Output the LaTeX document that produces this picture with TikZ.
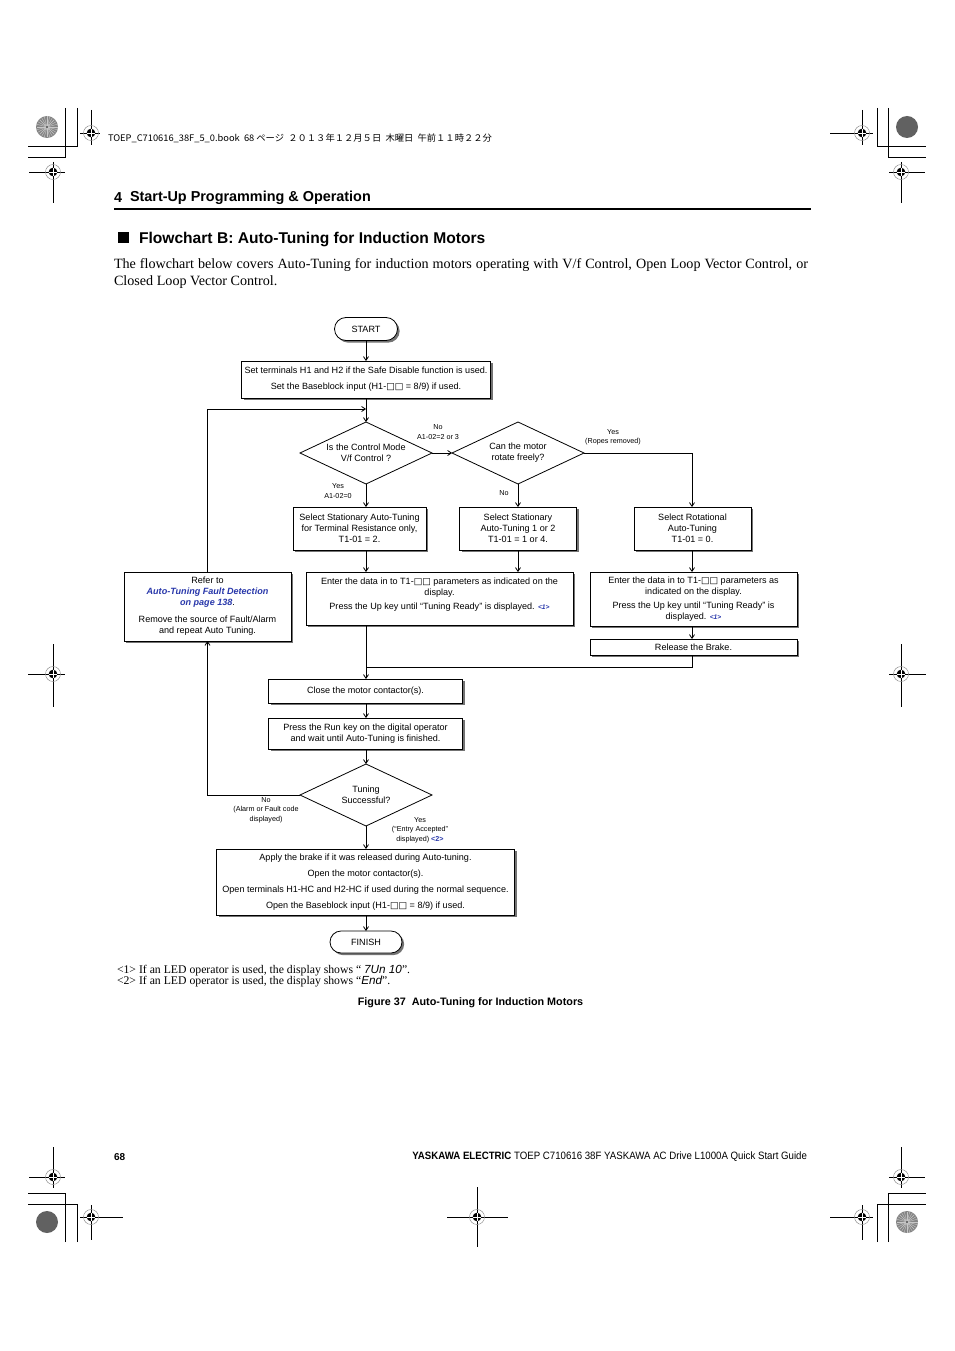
\documentclass[tikz,border=0pt]{standalone}
\usepackage{fontspec}
\usepackage{graphicx}
\setmainfont{Liberation Serif}
\setsansfont{Liberation Sans}
\newfontfamily\cjk{Noto Sans CJK JP}
\newfontfamily\dejavu{DejaVu Sans}
\usetikzlibrary{shapes.geometric,shapes.misc,arrows.meta,shadows}
\definecolor{lnk}{RGB}{40,55,170}
\newcommand{\sqbox}{{\dejavu\char"25A1}}
\newcommand{\fnref}[1]{\textcolor{lnk}{\fontsize{5}{6}\selectfont\bfseries\itshape #1}}
\begin{document}
\begin{tikzpicture}[x=0.75pt,y=-0.75pt,
 every node/.style={inner sep=0pt, outer sep=0pt},
 fc/.style={font=\sffamily\fontsize{6.8}{8.25}\selectfont, align=center},
 lbl/.style={font=\sffamily\fontsize{5.4}{7}\selectfont, align=center},
 wh/.style 2 args={minimum width=#1*0.75pt, minimum height=#2*0.75pt},
 shad/.style={drop shadow={shadow xshift=1.6pt, shadow yshift=-1.6pt, fill=black!55, opacity=1}},
 procbox/.style={fc, draw, fill=white, line width=0.6pt, shad},
 termbox/.style={fc, rounded rectangle, draw, fill=white, line width=0.6pt, shad},
 decbox/.style={fc, diamond, aspect=2.13, draw, fill=white, line width=0.6pt},
 conn/.style={line width=0.6pt, -{Straight Barb[length=2.8pt,width=3.8pt]}},
 wire/.style={line width=0.6pt},
 regl/.style={line width=0.6pt},
 regtarget/.pic={
   \draw[black!45, line width=0.35pt] (0,0) circle (7.5);
   \fill (0,0) circle (4.3);
   \draw[white, line width=0.5pt] (-4.3,0) -- (4.3,0) (0,-4.3) -- (0,4.3);
 },
 darkdisk/.pic={\fill[black!62] (0,0) circle (11);},
 lightdisk/.pic={
   \fill[black!48] (0,0) circle (11);
   \foreach \a in {0,15,...,165} \draw[black!22, line width=0.3pt] (\a:10.5) -- (\a+180:10.5);
   \fill[black!70] (0,0) circle (1.2);
 },
]
\useasboundingbox (0,0) rectangle (954,1351);
\fill[white] (0,0) rectangle (954,1351);

% ---------- crop marks ----------
\draw[regl] (77,108) -- (77,146) -- (28,146);
\draw[regl] (65,108) -- (65,157) -- (28,157);
\draw[regl] (877,108) -- (877,146) -- (926,146);
\draw[regl] (888,108) -- (888,157) -- (926,157);
\draw[regl] (77,1242) -- (77,1204) -- (28,1204);
\draw[regl] (65,1242) -- (65,1193) -- (28,1193);
\draw[regl] (877,1242) -- (877,1204) -- (926,1204);
\draw[regl] (888,1242) -- (888,1193) -- (926,1193);

% ---------- registration targets ----------
\draw[regl] (80,133) -- (100,133) (91,110) -- (91,145);
\pic at (91,133) {regtarget};
\draw[regl] (830,133) -- (873,133) (862,110) -- (862,145);
\pic at (862,133) {regtarget};
\draw[regl] (29,172) -- (65,172) (53,162) -- (53,203);
\pic at (53,172) {regtarget};
\draw[regl] (889,172) -- (925,172) (901,162) -- (901,203);
\pic at (901,172) {regtarget};
\draw[regl] (28,674) -- (65,674) (53,644) -- (53,707);
\pic at (53,674) {regtarget};
\draw[regl] (889,674) -- (926,674) (901,644) -- (901,707);
\pic at (901,674) {regtarget};
\draw[regl] (29,1177) -- (65,1177) (53,1147) -- (53,1188);
\pic at (53,1177) {regtarget};
\draw[regl] (889,1177) -- (925,1177) (901,1147) -- (901,1188);
\pic at (901,1177) {regtarget};
\draw[regl] (80,1217) -- (123,1217) (91,1205) -- (91,1240);
\pic at (91,1217) {regtarget};
\draw[regl] (830,1217) -- (873,1217) (862,1205) -- (862,1240);
\pic at (862,1217) {regtarget};
\draw[regl] (447,1217) -- (508,1217) (477,1187) -- (477,1247);
\pic at (477,1217) {regtarget};

\pic at (47,127) {lightdisk};
\pic at (907,127) {darkdisk};
\pic at (47,1222) {darkdisk};
\pic at (907,1222) {lightdisk};

% ---------- page header ----------
\node[anchor=west, font=\cjk\fontsize{6.8}{8}\selectfont] (jobline) at (108,138)
  {\resizebox{288pt}{\height}{TOEP\_C710616\_38F\_5\_0.book\ \ 68 ページ\ \ ２０１３年１２月５日\ \ 木曜日\ \ 午前１１時２２分}};
\node[anchor=west, font=\sffamily\bfseries\fontsize{10.8}{13}\selectfont] (secnum) at (114,198) {4};
\node[anchor=west, font=\sffamily\bfseries\fontsize{10.8}{13}\selectfont] (sectitle) at (130,198) {Start-Up Programming \& Operation};
\draw[line width=1.5pt] (114,209) -- (811,209);

\fill (118,232) rectangle (129,243);
\node[anchor=west, font=\sffamily\bfseries\fontsize{11.7}{14}\selectfont] (fctitle) at (139,240) {Flowchart B: Auto-Tuning for Induction Motors};

\node[anchor=north west, text width=520.5pt, align=justify, font=\fontsize{10.6}{12.75}\selectfont] (intro) at (114,259)
  {The flowchart below covers Auto-Tuning for induction motors operating with V/f Control, Open Loop Vector Control, or\linebreak Closed Loop Vector Control.};

% ---------- junction points ----------
\coordinate (j1) at (366,409);
\coordinate (j2) at (366,667);
\coordinate (c4) at (692,0);

% ---------- flowchart nodes ----------
\node[termbox, wh={63}{23}] (start) at (366,329) {START};
\node[procbox, wh={249}{37}] (b1) at (366,379.5)
  {Set terminals H1 and H2 if the Safe Disable function is used.\\[3.75pt]
   Set the Baseblock input (H1-\sqbox\sqbox\ = 8/9) if used.};
\node[decbox, wh={132}{62}] (d1) at (366,453) {Is the Control Mode\\V/f Control ?};
\node[decbox, wh={132}{62}] (d2) at (518,453) {Can the motor\\rotate freely?};
\node[procbox, wh={133}{43}] (b2) at (359.5,528.5)
  {Select Stationary Auto-Tuning\\for Terminal Resistance only,\\T1-01 = 2.};
\node[procbox, wh={117}{43}] (b3) at (518,528.5)
  {Select Stationary\\Auto-Tuning 1 or 2\\T1-01 = 1 or 4.};
\node[procbox, wh={117}{43}] (b4) at (692.5,528.5)
  {Select Rotational\\Auto-Tuning\\T1-01 = 0.};
\node[procbox, wh={167}{69}] (refer) at (207.5,606.5)
  {Refer to\\
   \textcolor{lnk}{\bfseries\itshape Auto-Tuning Fault Detection}\\
   \textcolor{lnk}{\bfseries\itshape on page 138}.\\[4.5pt]
   Remove the source of Fault/Alarm\\and repeat Auto Tuning.};
\node[procbox, wh={267}{53}, text depth=7.5pt] (b5) at (439.5,598.5)
  {Enter the data in to T1-\sqbox\sqbox\ parameters as indicated on the\\display.\\[2.25pt]
   Press the Up key until “Tuning Ready” is displayed. \fnref{<1>}};
\node[procbox, wh={207}{54}] (b6) at (693.5,599)
  {Enter the data in to T1-\sqbox\sqbox\ parameters as\\indicated on the display.\\[2.25pt]
   Press the Up key until “Tuning Ready” is\\displayed. \fnref{<1>}};
\node[procbox, wh={207}{16}] (b7) at (693.5,647) {Release the Brake.};
\node[procbox, wh={194}{24}] (b8) at (365.5,691) {Close the motor contactor(s).};
\node[procbox, wh={194}{31}] (b9) at (365.5,733.5)
  {Press the Run key on the digital operator\\and wait until Auto-Tuning is finished.};
\node[decbox, wh={132}{62}] (d3) at (366,795) {Tuning\\Successful?};
\node[procbox, wh={298}{66}] (b10) at (365.5,882)
  {Apply the brake if it was released during Auto-tuning.\\[3.75pt]
   Open the motor contactor(s).\\[3.75pt]
   Open terminals H1-HC and H2-HC if used during the normal sequence.\\[3.75pt]
   Open the Baseblock input (H1-\sqbox\sqbox\ = 8/9) if used.};
\node[termbox, wh={72}{22}] (fin) at (366,942) {FINISH};

% ---------- connectors ----------
\draw[conn] (start) -- (b1);
\draw[conn] (b1.south -| d1.north) -- (d1.north);
\draw[conn] (refer.north) |- (j1);
\draw[conn] (d1.east) -- (d2.west);
\draw[conn] (d2.east) -| (c4 |- b4.north);
\draw[conn] (d1.south) -- (d1.south |- b2.north);
\draw[conn] (d2.south) -- (d2.south |- b3.north);
\draw[conn] (d1.south |- b2.south) -- (d1.south |- b5.north);
\draw[conn] (d2.south |- b3.south) -- (d2.south |- b5.north);
\draw[conn] (c4 |- b4.south) -- (c4 |- b6.north);
\draw[conn] (c4 |- b6.south) -- (c4 |- b7.north);
\draw[wire] (c4 |- b7.south) |- (j2);
\draw[conn] (d1.south |- b5.south) -- (d1.south |- b8.north);
\draw[conn] (d1.south |- b8.south) -- (d1.south |- b9.north);
\draw[conn] (d1.south |- b9.south) -- (d3.north);
\draw[conn] (d3.south) -- (d3.south |- b10.north);
\draw[conn] (d3.south |- b10.south) -- (fin.north);
\draw[conn] (d3.west) -| (refer.south);

% ---------- connector labels ----------
\node[lbl] (l1) at (438,432) {No\\A1-02=2 or 3};
\node[lbl] (l2) at (613,437) {Yes\\(Ropes removed)};
\node[lbl] (l3) at (338,491) {Yes\\A1-02=0};
\node[lbl] (l4) at (504,493.5) {No};
\node[lbl] (l5) at (266,810) {No\\(Alarm or Fault code\\displayed)};
\node[lbl] (l6) at (420,830) {Yes\\(“Entry Accepted”\\displayed) \textcolor{lnk}{\bfseries <2>}};

% ---------- footnotes and caption ----------
\node[anchor=west, font=\fontsize{8.8}{8.25}\selectfont] (fn1) at (117,971)
  {<1> If an LED operator is used, the display shows “ {\sffamily\itshape 7Un 10}”.};
\node[anchor=west, font=\fontsize{8.8}{8.25}\selectfont] (fn2) at (117,982)
  {<2> If an LED operator is used, the display shows “{\sffamily\itshape End}”.};
\node[font=\sffamily\bfseries\fontsize{8.1}{10}\selectfont] (cap) at (470.5,1003)
  {Figure 37\ \ Auto-Tuning for Induction Motors};

% ---------- page footer ----------
\node[anchor=west, font=\sffamily\bfseries\fontsize{7.5}{9}\selectfont] (pgno) at (114,1157) {68};
\node[anchor=east, font=\sffamily\fontsize{8}{9}\selectfont] (foot) at (807,1157)
  {\resizebox{296pt}{\height}{\textbf{YASKAWA ELECTRIC} TOEP C710616 38F YASKAWA AC Drive L1000A Quick Start Guide}};
\end{tikzpicture}
\end{document}
